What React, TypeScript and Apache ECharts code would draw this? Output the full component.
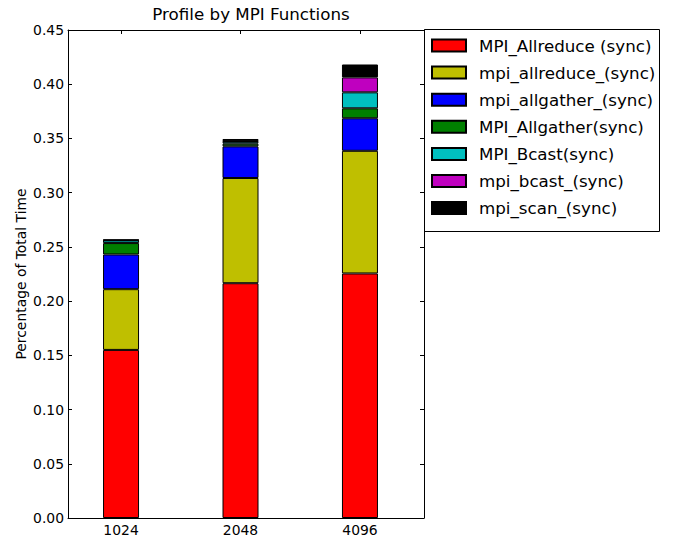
import React, { useEffect, useRef } from "react";
import * as echarts from "echarts";

const categories = ["1024", "2048", "4096"];
const seriesNames = [
  "MPI_Allreduce (sync)",
  "mpi_allreduce_(sync)",
  "mpi_allgather_(sync)",
  "MPI_Allgather(sync)",
  "MPI_Bcast(sync)",
  "mpi_bcast_(sync)",
  "mpi_scan_(sync)",
];
const colors = ["#ff0000", "#bfbf00", "#0000ff", "#008000", "#00bfbf", "#bf00bf", "#000000"];
const mpiAllreduce = [0.155, 0.2165, 0.2255];
const mpiAllreduceF = [0.056, 0.097, 0.1131];
const mpiAllgatherF = [0.032, 0.0292, 0.030];
const mpiAllgather = [0.0105, 0.0025, 0.0092];
const mpiBcast = [0.0025, 0.0018, 0.0147];
const mpiBcastF = [0.0002, 0.0005, 0.0138];
const mpiScan = [0.0005, 0.002, 0.0119];
const seriesValues = [mpiAllreduce, mpiAllreduceF, mpiAllgatherF, mpiAllgather, mpiBcast, mpiBcastF, mpiScan];
const yTicks = [0, 0.05, 0.1, 0.15, 0.2, 0.25, 0.3, 0.35, 0.4, 0.45];

const FONT = "DejaVu Sans";

export default function App() {
  const ref = useRef<HTMLDivElement>(null);
  useEffect(() => {
    if (!ref.current) return;
    const chart = echarts.init(ref.current, undefined, { renderer: "svg" });
    const tickIdx = categories.map((_, i) => i);
    const axisCommon = {
      type: "value" as const,
      min: -0.444,
      max: 2.536,
      axisLine: { show: true, onZero: false, lineStyle: { color: "#000", width: 1 } },
      splitLine: { show: false },
    };
    chart.setOption({
      animation: false,
      backgroundColor: "#fff",
      title: {
        text: "Profile by MPI Functions",
        left: 246,
        top: 0,
        textAlign: "center",
        textStyle: { fontFamily: FONT, fontSize: 16.7, fontWeight: "normal", color: "#000" },
      },
      grid: { left: 68, top: 30, right: 250, bottom: 22, containLabel: false },
      legend: {
        orient: "vertical",
        left: 431,
        top: 37,
        padding: 0,
        icon: "rect",
        itemWidth: 34,
        itemHeight: 12,
        itemGap: 10.1,
        textStyle: { fontFamily: FONT, fontSize: 16.7, color: "#000", padding: [0, 0, 0, 8] },
        data: seriesNames,
      },
      graphic: [
        {
          type: "rect",
          shape: { x: 424.5, y: 29.5, width: 235, height: 202 },
          style: { fill: "none", stroke: "#000", lineWidth: 1 },
          z: 10,
        },
      ],
      xAxis: [
        {
          ...axisCommon,
          position: "bottom",
          axisTick: { show: true, inside: true, length: 4, customValues: tickIdx, lineStyle: { color: "#000" } },
          axisLabel: {
            show: true,
            customValues: tickIdx,
            formatter: (v: number) => categories[Math.round(v)] ?? "",
            fontFamily: FONT,
            fontSize: 13.9,
            color: "#000",
            margin: 5,
          },
        },
        {
          ...axisCommon,
          position: "top",
          axisTick: { show: true, inside: true, length: 4, customValues: tickIdx, lineStyle: { color: "#000" } },
          axisLabel: { show: false },
        },
      ],
      yAxis: [
        {
          type: "value",
          min: 0,
          max: 0.45,
          interval: 0.05,
          position: "left",
          name: "Percentage of Total Time",
          nameLocation: "middle",
          nameGap: 40,
          nameMoveOverlap: false,
          nameTextStyle: { fontFamily: FONT, fontSize: 13.9, color: "#000" },
          axisLine: { show: true, onZero: false, lineStyle: { color: "#000", width: 1 } },
          axisTick: { show: true, inside: true, length: 4, lineStyle: { color: "#000" } },
          axisLabel: {
            fontFamily: FONT,
            fontSize: 13.9,
            color: "#000",
            margin: 4,
            customValues: yTicks,
            formatter: (v: number) => v.toFixed(2),
          },
          splitLine: { show: false },
        },
        {
          type: "value",
          min: 0,
          max: 0.45,
          interval: 0.05,
          position: "right",
          axisLine: { show: true, onZero: false, lineStyle: { color: "#000", width: 1 } },
          axisTick: { show: true, inside: true, length: 4, lineStyle: { color: "#000" } },
          axisLabel: { show: false },
          splitLine: { show: false },
        },
      ],
      series: seriesNames.map((name, si) => ({
        name,
        type: "bar",
        stack: "total",
        xAxisIndex: 0,
        yAxisIndex: 0,
        barWidth: 36,
        encode: { x: 1, y: 0 },
        itemStyle: { color: colors[si], borderColor: "#000", borderWidth: 1 },
        data: seriesValues[si].map((v, i) => [v, i]),
      })),
    });
    return () => chart.dispose();
  }, []);
  return (
    <div
      ref={ref}
      style={{ position: "absolute", left: 0, top: 0, width: 674, height: 540 }}
    />
  );
}
